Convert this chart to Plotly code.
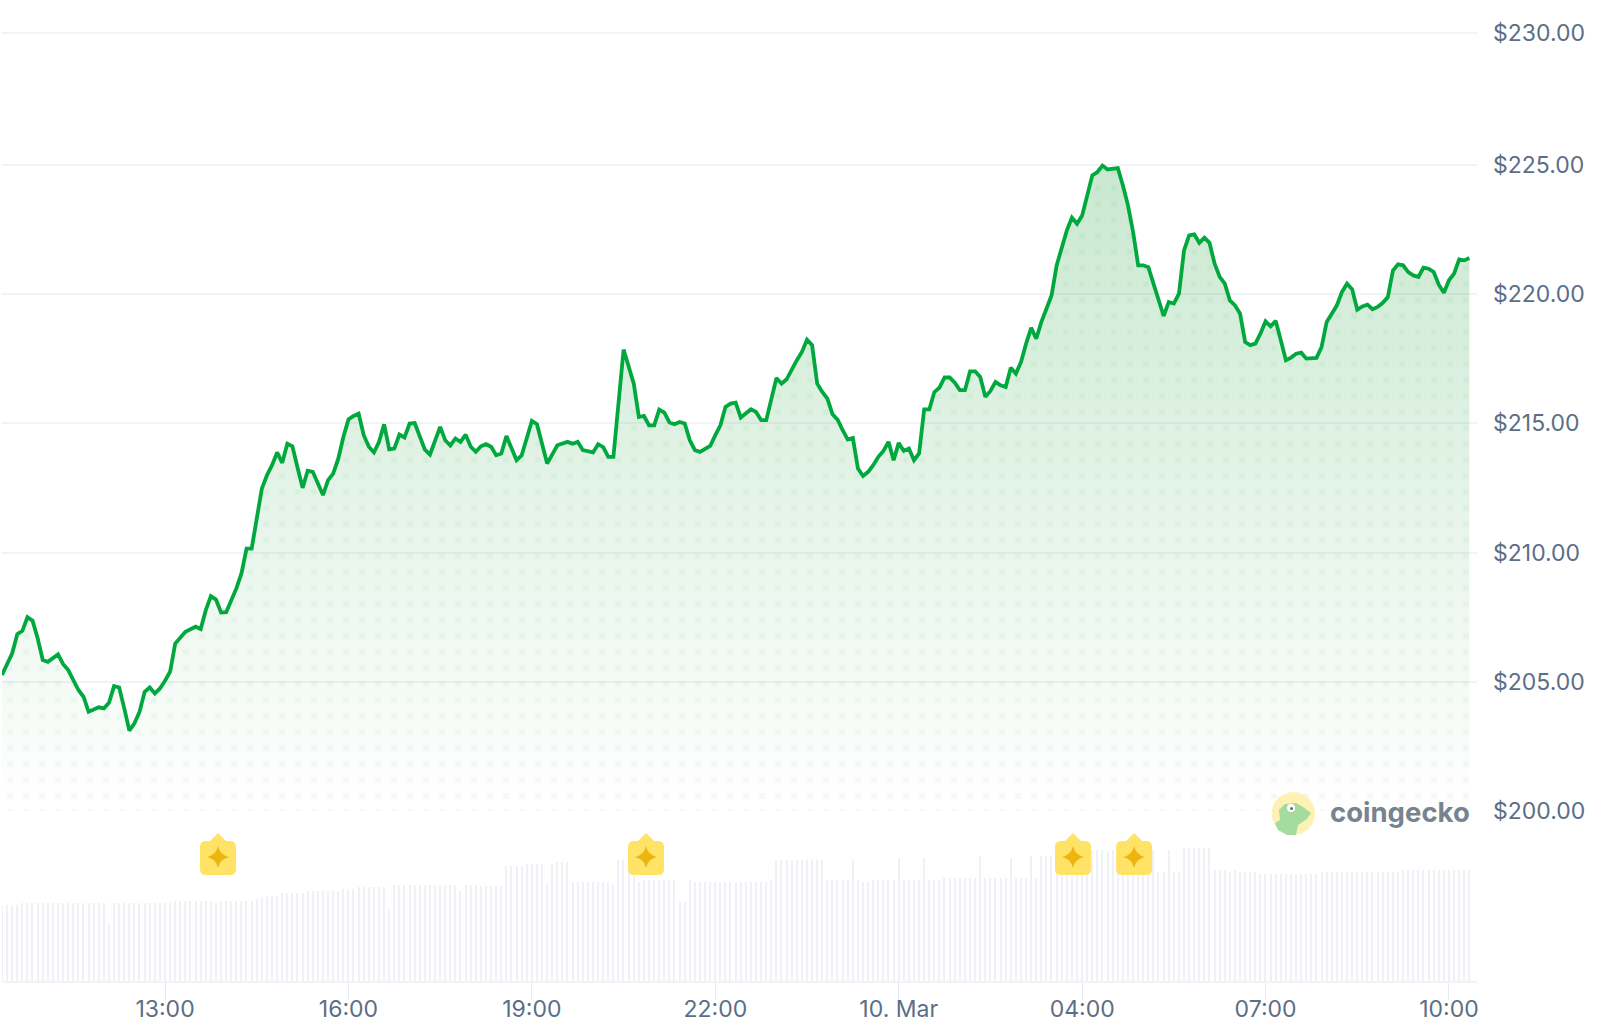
import pandas as pd
import plotly.graph_objects as go

# minutes after 10:20 on 9 March
minutes = [i * 5 for i in (
    0, 1, 2, 3, 4, 5, 6, 7, 8, 9, 11, 12, 13, 15, 16, 17, 19, 20, 21, 22, 23, 24, 25, 26, 27, 28, 29, 30, 31, 32,
    33, 34, 35, 36, 38, 39, 40, 41, 42, 43, 44, 45, 46, 47, 48, 49, 50, 51, 52, 53, 54, 55, 56, 57, 58, 59, 60, 61,
    63, 64, 65, 66, 67, 68, 69, 70, 71, 72, 73, 74, 75, 76, 77, 78, 79, 80, 81, 83, 84, 86, 87, 88, 89, 90, 91, 92,
    93, 94, 95, 96, 97, 98, 99, 101, 102, 104, 105, 107, 109, 111, 112, 113, 114, 116, 117, 118, 119, 120, 122, 123,
    124, 125, 126, 127, 128, 129, 130, 131, 132, 133, 134, 135, 136, 137, 139, 140, 141, 142, 143, 144, 145, 147, 148,
    149, 150, 152, 153, 154, 155, 156, 157, 158, 159, 160, 161, 162, 163, 164, 165, 166, 167, 168, 169, 170, 171, 172,
    173, 174, 175, 176, 177, 178, 179, 180, 181, 182, 183, 184, 185, 186, 187, 188, 189, 190, 191, 192, 193, 194, 195,
    196, 197, 198, 199, 200, 201, 202, 203, 204, 205, 206, 207, 208, 209, 210, 211, 212, 213, 214, 215, 216, 217, 218,
    219, 220, 221, 222, 223, 224, 225, 226, 227, 228, 229, 230, 231, 232, 233, 234, 235, 236, 237, 238, 239, 240, 241,
    242, 243, 244, 245, 246, 247, 248, 249, 250, 252, 253, 254, 255, 256, 258, 259, 260, 261, 262, 263, 264, 265, 266,
    267, 268, 269, 270, 271, 272, 273, 274, 275, 276, 277, 278, 279, 280, 281, 282, 283, 284, 285, 286, 287, 288,
)]
prices = [
    205.26, 205.64, 206.10, 206.84, 206.97, 207.50, 207.36, 206.68, 205.84, 205.77, 206.06, 205.68, 205.45, 204.68,
    204.42, 203.84, 204.01, 203.97, 204.19, 204.83, 204.78, 203.97, 203.11, 203.39, 203.84, 204.61, 204.78, 204.55,
    204.74, 205.04, 205.39, 206.48, 206.68, 206.93, 207.13, 207.04, 207.77, 208.31, 208.18, 207.68, 207.69, 208.16,
    208.61, 209.19, 210.15, 210.15, 211.25, 212.47, 212.99, 213.38, 213.87, 213.47, 214.21, 214.11, 213.29, 212.50,
    213.16, 213.12, 212.22, 212.80, 213.05, 213.63, 214.47, 215.15, 215.28, 215.37, 214.54, 214.09, 213.87, 214.28,
    214.96, 213.99, 214.02, 214.56, 214.45, 214.99, 215.01, 213.98, 213.79, 214.86, 214.34, 214.14, 214.41, 214.28,
    214.56, 214.09, 213.90, 214.11, 214.19, 214.09, 213.76, 213.83, 214.51, 213.57, 213.76, 215.09, 214.96, 213.44,
    214.15, 214.28, 214.21, 214.28, 213.96, 213.87, 214.19, 214.08, 213.70, 213.70, 217.85, 217.24, 216.53, 215.24,
    215.28, 214.92, 214.92, 215.53, 215.41, 215.03, 214.96, 215.05, 214.99, 214.34, 213.96, 213.89, 214.12, 214.54,
    214.92, 215.63, 215.76, 215.80, 215.22, 215.54, 215.44, 215.12, 215.12, 216.75, 216.53, 216.70, 217.11, 217.44,
    217.76, 218.23, 218.02, 216.53, 216.21, 215.95, 215.35, 215.14, 214.73, 214.37, 214.43, 213.25, 212.96, 213.12,
    213.38, 213.70, 213.93, 214.28, 213.57, 214.24, 213.93, 214.02, 213.57, 213.83, 215.54, 215.54, 216.21, 216.38,
    216.77, 216.77, 216.57, 216.28, 216.28, 217.01, 217.01, 216.79, 216.02, 216.25, 216.60, 216.47, 216.40, 217.15,
    216.92, 217.37, 218.08, 218.69, 218.27, 218.92, 219.43, 219.95, 221.11, 221.75, 222.46, 222.95, 222.72, 223.04,
    223.81, 224.59, 224.72, 224.97, 224.82, 224.85, 224.87, 224.20, 223.43, 222.40, 221.11, 221.11, 221.04, 220.40,
    219.75, 219.15, 219.69, 219.63, 220.01, 221.69, 222.27, 222.31, 221.98, 222.18, 221.98, 221.17, 220.66, 220.40,
    219.75, 219.56, 219.24, 218.14, 218.02, 218.08, 218.47, 218.94, 218.75, 218.96, 217.44, 217.54, 217.69, 217.73,
    217.50, 217.53, 217.95, 218.92, 219.24, 219.56, 220.08, 220.40, 220.18, 219.39, 219.52, 219.59, 219.41, 219.50,
    219.66, 219.88, 220.91, 221.15, 221.11, 220.85, 220.72, 220.66, 221.02, 220.98, 220.85, 220.36, 220.05, 220.53,
    220.79, 221.34, 221.30, 221.39,
]
# one volume reading every 5 minutes
volumes = [
    76, 76, 76, 76, 78, 78, 78, 78, 78, 78, 78, 78, 78, 78, 78, 78, 78, 78, 78, 78, 78, 57, 78, 78, 78, 78, 78, 78,
    78, 78, 78, 78, 78, 78, 80, 80, 80, 80, 80, 80, 80, 80, 78, 80, 80, 80, 80, 80, 80, 80, 82, 84, 84, 85, 85, 88,
    88, 88, 88, 88, 90, 90, 90, 90, 90, 90, 90, 92, 92, 92, 94, 94, 94, 94, 94, 94, 72, 96, 96, 96, 96, 96, 96, 96,
    96, 96, 96, 96, 96, 96, 90, 96, 96, 96, 95, 95, 95, 95, 95, 115, 115, 115, 115, 117, 117, 117, 117, 97, 117, 119,
    119, 119, 99, 99, 99, 99, 99, 99, 99, 99, 97, 121, 121, 121, 121, 99, 101, 101, 101, 101, 101, 101, 101, 79, 79,
    101, 99, 99, 99, 99, 99, 99, 99, 99, 99, 99, 99, 99, 99, 99, 99, 101, 121, 121, 121, 121, 121, 121, 121, 121, 121,
    121, 101, 101, 101, 101, 101, 121, 101, 99, 99, 101, 101, 101, 101, 101, 123, 101, 101, 101, 101, 123, 101, 101,
    101, 103, 103, 103, 103, 103, 103, 103, 125, 103, 103, 103, 103, 103, 123, 103, 103, 103, 125, 103, 125, 125, 125,
    125, 125, 125, 125, 125, 125, 125, 131, 131, 131, 129, 131, 131, 131, 131, 131, 131, 131, 131, 131, 109, 109, 131,
    109, 109, 133, 133, 133, 133, 133, 133, 111, 111, 111, 109, 111, 109, 109, 109, 109, 107, 107, 107, 107, 107, 107,
    107, 107, 107, 107, 107, 107, 109, 109, 109, 109, 109, 109, 109, 109, 109, 109, 109, 109, 109, 109, 109, 109, 111,
    111, 111, 111, 111, 111, 111, 111, 111, 111, 111, 111, 111, 111,
]
badge_minutes = [212, 632, 1051, 1111]

tick_times = ['2024-03-09 13:00', '2024-03-09 16:00', '2024-03-09 19:00', '2024-03-09 22:00',
              '2024-03-10 01:00', '2024-03-10 04:00', '2024-03-10 07:00', '2024-03-10 10:00']
tick_labels = ['13:00', '16:00', '19:00', '22:00', '10. Mar', '04:00', '07:00', '10:00']
price_ticks = [200, 205, 210, 215, 220, 225, 230.09]
price_labels = ['$200.00', '$205.00', '$210.00', '$215.00', '$220.00', '$225.00', '$230.00']

start = pd.Timestamp('2024-03-09 10:20')
price_x = [start + pd.Timedelta(minutes=m) for m in minutes]
volume_x = [start + pd.Timedelta(minutes=i * 5) for i in range(len(volumes))]

GREEN = '#00a83e'
GRID = '#f1f3f6'
TEXT = '#5c6e86'
BAR = '#f0f1f6'

# plot box in page pixels, used to place the logo
LEFT, RIGHT, TOP, BOTTOM = 2, 1477, 20, 981


def page_path(points):
    cmds = []
    for i, (px, py) in enumerate(points):
        x = (px - LEFT) / (RIGHT - LEFT)
        y = (BOTTOM - py) / (BOTTOM - TOP)
        cmds.append(f"{'M' if i == 0 else 'L'}{x:.5f},{y:.5f}")
    return ' '.join(cmds) + ' Z'


fig = go.Figure()
fig.add_trace(go.Bar(x=volume_x, y=volumes, yaxis='y2', marker=dict(color=BAR, line_width=0), width=70000))
fig.add_trace(go.Scatter(
    x=price_x, y=prices, mode='none', fill='tozeroy',
    fillgradient=dict(type='vertical', start=200, stop=225,
                      colorscale=[[0, 'rgba(10,150,40,0)'], [1, 'rgba(10,150,40,0.22)']]),
))
fig.add_trace(go.Scatter(
    x=price_x, y=prices, mode='none', fill='tozeroy', fillcolor='rgba(0,0,0,0)',
    fillpattern=dict(shape='.', size=16, solidity=0.11, fgcolor=GREEN, fgopacity=0.05, bgcolor='rgba(0,0,0,0)'),
))
fig.add_trace(go.Scatter(x=price_x, y=prices, mode='lines', line=dict(color=GREEN, width=3.8)))

shapes = []
badge_body = ('M-12,-17 Q-18,-17 -18,-11 L-18,11 Q-18,17 -12,17 L-8,17 L0,25 L8,17 L12,17 '
              'Q18,17 18,11 L18,-11 Q18,-17 12,-17 Z')
badge_star = 'M0,12 Q2,3 11,1 Q2,-1 0,-10 Q-2,-1 -11,1 Q-2,3 0,12 Z'
for m in badge_minutes:
    when = start + pd.Timedelta(minutes=m)
    for path, color in [(badge_body, '#ffe366'), (badge_star, '#eeb511')]:
        shapes.append(dict(type='path', path=path, layer='above', fillcolor=color, line_width=0,
                           xref='x', yref='y2', xsizemode='pixel', ysizemode='pixel',
                           xanchor=when, yanchor=123))

# coingecko logo
shapes.append(dict(type='circle', xref='paper', yref='paper', layer='above', fillcolor='#fdf1b4', line_width=0,
                   x0=(1271.7 - LEFT) / (RIGHT - LEFT), x1=(1315 - LEFT) / (RIGHT - LEFT),
                   y0=(BOTTOM - 835) / (BOTTOM - TOP), y1=(BOTTOM - 792) / (BOTTOM - TOP)))
shapes.append(dict(type='path', xref='paper', yref='paper', layer='above', fillcolor='#a6dba0', line_width=0,
                   path=page_path([(1275, 823), (1280, 820), (1279, 810), (1285, 804), (1296, 803), (1303, 807),
                                   (1311, 813), (1307, 819), (1298, 825), (1296, 835), (1287, 835), (1278, 830)])))
shapes.append(dict(type='circle', xref='paper', yref='paper', layer='above', fillcolor='#ffffff', line_width=0,
                   x0=(1287 - LEFT) / (RIGHT - LEFT), x1=(1295 - LEFT) / (RIGHT - LEFT),
                   y0=(BOTTOM - 812) / (BOTTOM - TOP), y1=(BOTTOM - 804) / (BOTTOM - TOP)))
shapes.append(dict(type='circle', xref='paper', yref='paper', layer='above', fillcolor='#5b6b62', line_width=0,
                   x0=(1290 - LEFT) / (RIGHT - LEFT), x1=(1293 - LEFT) / (RIGHT - LEFT),
                   y0=(BOTTOM - 810) / (BOTTOM - TOP), y1=(BOTTOM - 807) / (BOTTOM - TOP)))

fig.update_layout(
    width=1600,
    height=1023,
    autosize=False,
    template='plotly_white',
    paper_bgcolor='white',
    plot_bgcolor='white',
    showlegend=False,
    hovermode=False,
    bargap=0,
    margin=dict(l=LEFT, r=1600 - RIGHT, t=TOP, b=1023 - BOTTOM, autoexpand=False),
    font=dict(family='Inter', size=23, color=TEXT),
    shapes=shapes,
    xaxis=dict(
        type='date',
        range=['2024-03-09 10:20', '2024-03-10 10:27:30'],
        tickmode='array', tickvals=tick_times, ticktext=tick_labels,
        ticks='outside', ticklen=17, tickwidth=1, tickcolor='#e6e9f0',
        showgrid=False, zeroline=False,
        showline=True, linecolor=GRID, linewidth=2,
        ticklabelstandoff=-11,
        tickfont=dict(family='Inter', size=23, color=TEXT),
        anchor='y2',
    ),
    yaxis=dict(
        domain=[(BOTTOM - 811) / (BOTTOM - TOP), 1],
        range=[200, 200 + (811 - TOP) / 25.85],
        side='right',
        tickmode='array', tickvals=price_ticks, ticktext=price_labels,
        ticks='', showline=False, zeroline=False,
        showgrid=True, gridcolor=GRID, gridwidth=1.5,
        ticklabelstandoff=15,
        tickfont=dict(family='Inter', size=23, color=TEXT),
    ),
    yaxis2=dict(
        domain=[0, 150 / (BOTTOM - TOP)],
        range=[0, 150],
        visible=False,
    ),
    annotations=[dict(
        text='<b>coingecko</b>', xref='paper', yref='paper', showarrow=False,
        x=(1472 - LEFT) / (RIGHT - LEFT), y=(BOTTOM - 812) / (BOTTOM - TOP),
        xanchor='right', yanchor='middle',
        font=dict(family='Inter', size=27.5, color='#77838f'),
    )],
)

# the page's default body margin would push the chart 8px in
fig.write_html("out.html", config=dict(displayModeBar=False), post_script="document.body.style.margin = '0';")
